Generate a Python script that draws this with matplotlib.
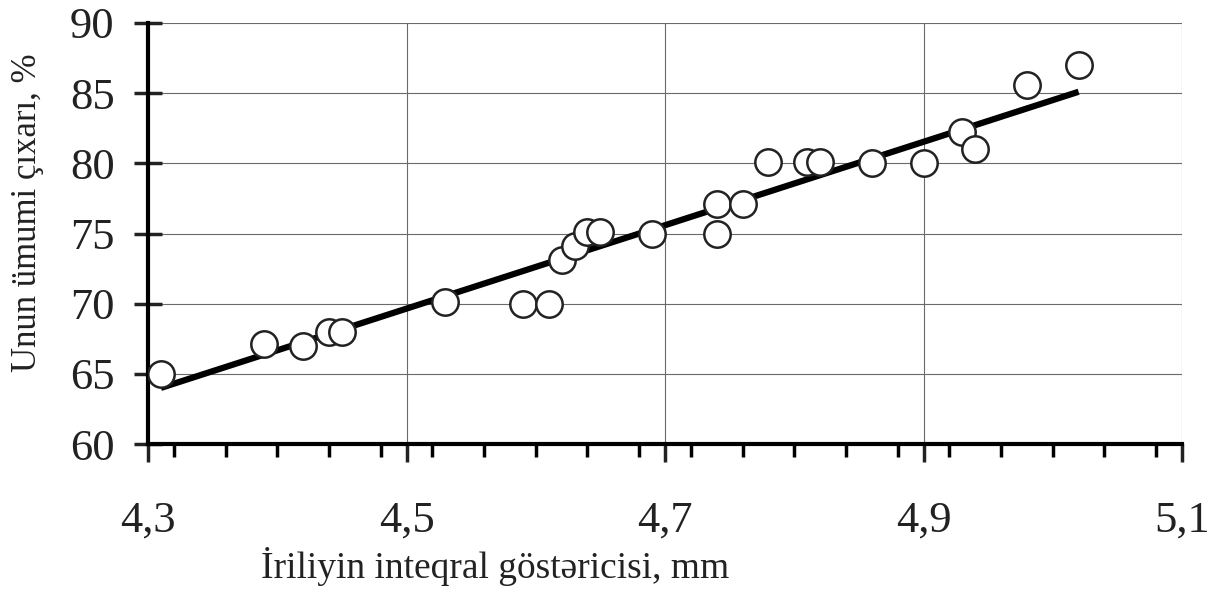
import matplotlib
matplotlib.use("Agg")
import matplotlib.pyplot as plt
from matplotlib.ticker import FixedLocator, MultipleLocator

# Data
x_vals = [4.31, 4.39, 4.42, 4.44, 4.45, 4.53, 4.59, 4.61, 4.62, 4.63, 4.64, 4.65,
          4.69, 4.74, 4.74, 4.76, 4.78, 4.81, 4.82, 4.86, 4.90, 4.93, 4.94, 4.98, 5.02]
y_vals = [65.0, 67.1, 67.0, 68.0, 68.0, 70.1, 70.0, 70.0, 73.1, 74.1, 75.1, 75.1,
          75.0, 77.1, 75.0, 77.1, 80.1, 80.1, 80.1, 80.0, 80.0, 82.2, 81.0, 85.6, 87.0]
fit_x = [4.31, 5.02]
fit_y = [64.0, 85.1]
x_ticks = [4.3, 4.5, 4.7, 4.9, 5.1]
x_tick_labels = ["4,3", "4,5", "4,7", "4,9", "5,1"]
y_ticks = [60, 65, 70, 75, 80, 85, 90]
y_tick_labels = ["60", "65", "70", "75", "80", "85", "90"]
x_label = "İriliyin inteqral göstəricisi, mm"
y_label = "Unun ümumi çıxarı, %"

plt.rcParams['font.family'] = ['Liberation Serif', 'DejaVu Serif']

fig = plt.figure(figsize=(12.22, 5.95), dpi=100)
ax = fig.add_axes([148/1222, 151/595, (1182-148)/1222, (444-23)/595])

ax.set_xlim(4.3, 5.1)
ax.set_ylim(60, 90)

# grid
for yv in y_ticks[1:]:
    ax.axhline(yv, color="#6a6a6a", lw=0.8, zorder=1)
for xv in x_ticks[1:]:
    ax.axvline(xv, color="#6a6a6a", lw=0.8, zorder=1)

ax.plot(fit_x, fit_y, color="black", lw=4.5, solid_capstyle="butt", zorder=2)
ax.plot(x_vals, y_vals, linestyle="none", marker="o", markersize=19,
        markerfacecolor="white", markeredgecolor="#222222", markeredgewidth=1.8, zorder=3)

for s in ["top", "right"]:
    ax.spines[s].set_visible(False)
ax.spines["left"].set_linewidth(3)
ax.spines["bottom"].set_linewidth(3)

ax.xaxis.set_major_locator(FixedLocator(x_ticks))
ax.set_xticklabels(x_tick_labels)
ax.xaxis.set_minor_locator(MultipleLocator(0.04))
ax.yaxis.set_major_locator(FixedLocator(y_ticks))
ax.set_yticklabels(y_tick_labels)

ax.tick_params(axis="x", which="major", direction="out", length=13, width=2.5,
               labelsize=32, pad=28, colors="#222222")
ax.tick_params(axis="x", which="minor", direction="out", length=9, width=2.5)
ax.tick_params(axis="y", which="major", direction="inout", length=20, width=2.5,
               labelsize=32, pad=14, colors="#222222")

ax.set_xlabel(x_label, fontsize=27, color="#222222")
ax.xaxis.set_label_coords((495-148)/(1182-148), -(566-444)/(444-23))
ax.xaxis.label.set_verticalalignment("center")
ax.set_ylabel(y_label, fontsize=25, color="#222222")
ax.yaxis.set_label_coords(-(148-28)/(1182-148), (444-213)/(444-23))
ax.yaxis.label.set_verticalalignment("center")

fig.savefig("out.png", dpi=100)
